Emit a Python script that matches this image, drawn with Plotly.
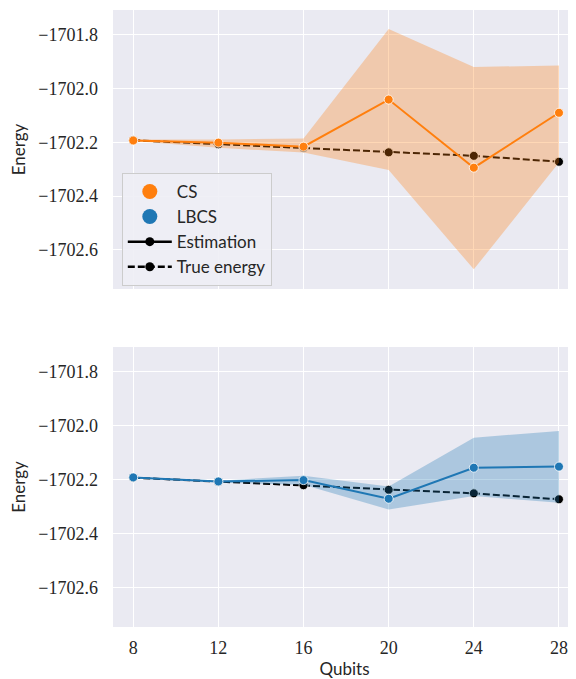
import plotly.graph_objects as go
from plotly.subplots import make_subplots

qubits = [8, 12, 16, 20, 24, 28]
true_energy = [-1702.192, -1702.207, -1702.220, -1702.237, -1702.250, -1702.272]

cs_mean = [-1702.193, -1702.201, -1702.216, -1702.041, -1702.294, -1702.090]
cs_upper = [-1702.189, -1702.189, -1702.186, -1701.779, -1701.920, -1701.914]
cs_lower = [-1702.195, -1702.220, -1702.238, -1702.303, -1702.672, -1702.275]

lbcs_mean = [-1702.191, -1702.206, -1702.201, -1702.270, -1702.155, -1702.151]
lbcs_upper = [-1702.189, -1702.203, -1702.185, -1702.225, -1702.044, -1702.019]
lbcs_lower = [-1702.194, -1702.210, -1702.218, -1702.310, -1702.260, -1702.285]

yticks = [-1701.8, -1702.0, -1702.2, -1702.4, -1702.6]
ytick_text = ["\u22121701.8", "\u22121702.0", "\u22121702.2", "\u22121702.4", "\u22121702.6"]

ORANGE = "#ff7f0e"
BLUE = "#1f77b4"
BG = "#eaeaf2"
SERIF = "Liberation Serif"
SANS = "Lato"

fig = make_subplots(rows=2, cols=1, shared_xaxes=True, vertical_spacing=0.0)

panels = [
    (1, cs_mean, cs_upper, cs_lower, ORANGE, "rgba(255,127,14,0.3)"),
    (2, lbcs_mean, lbcs_upper, lbcs_lower, BLUE, "rgba(31,119,180,0.3)"),
]

for row, mean, up, lo, col, fillcol in panels:
    # true energy (drawn beneath the band)
    fig.add_trace(go.Scatter(
        x=qubits, y=true_energy, mode="lines+markers",
        line=dict(color="black", width=2, dash="7px,3px"),
        marker=dict(color="black", size=9, line=dict(color="white", width=0.8)),
        showlegend=False, hoverinfo="skip"), row=row, col=1)
    # band
    fig.add_trace(go.Scatter(
        x=qubits, y=up, mode="lines", line=dict(width=0, color=fillcol),
        showlegend=False, hoverinfo="skip"), row=row, col=1)
    fig.add_trace(go.Scatter(
        x=qubits, y=lo, mode="lines", line=dict(width=0, color=fillcol),
        fill="tonexty", fillcolor=fillcol,
        showlegend=False, hoverinfo="skip"), row=row, col=1)
    # estimation
    fig.add_trace(go.Scatter(
        x=qubits, y=mean, mode="lines+markers",
        line=dict(color=col, width=2),
        marker=dict(color=col, size=9, line=dict(color="white", width=0.8)),
        showlegend=False), row=row, col=1)

# legend proxies
fig.add_trace(go.Scatter(x=[None], y=[None], mode="markers", name="CS",
                         marker=dict(color=ORANGE, size=15)), row=1, col=1)
fig.add_trace(go.Scatter(x=[None], y=[None], mode="markers", name="LBCS",
                         marker=dict(color=BLUE, size=15)), row=1, col=1)
fig.add_trace(go.Scatter(x=[None], y=[None], mode="lines+markers", name="Estimation",
                         line=dict(color="black", width=2.5),
                         marker=dict(color="black", size=9)), row=1, col=1)
fig.add_trace(go.Scatter(x=[None], y=[None], mode="lines+markers", name="True energy",
                         line=dict(color="black", width=2.5, dash="7px,3px"),
                         marker=dict(color="black", size=9)), row=1, col=1)

yrange = [-1702.745, -1701.708]
xrange = [7.05, 28.8]

for r, dom in [(1, [0.5478, 1.0]), (2, [0.0, 0.4538])]:
    fig.update_yaxes(
        row=r, col=1, range=yrange, domain=dom,
        tickvals=yticks, ticktext=ytick_text,
        tickfont=dict(family=SERIF, size=18, color="#262626"),
        showgrid=True, gridcolor="white", gridwidth=1.2,
        zeroline=False, showline=False, ticks="", ticklabelstandoff=14,
        title=dict(text="Energy", font=dict(family=SANS, size=17, color="#262626"), standoff=10),
    )
    fig.update_xaxes(
        row=r, col=1, range=xrange, tickvals=qubits,
        tickfont=dict(family=SERIF, size=18, color="#262626"),
        showgrid=True, gridcolor="white", gridwidth=1.2,
        zeroline=False, showline=False, ticks="", ticklabelstandoff=8,
    )

fig.update_xaxes(row=1, col=1, showticklabels=False)
fig.update_xaxes(row=2, col=1,
                 title=dict(text="Qubits", font=dict(family=SANS, size=17, color="#262626"), standoff=9))

fig.update_layout(
    width=568, height=671,
    margin=dict(l=105, r=0, t=2, b=52),
    paper_bgcolor="white", plot_bgcolor=BG,
    font=dict(family=SANS, color="#262626"),
    legend=dict(
        x=0.019, y=0.736, xanchor="left", yanchor="top",
        bgcolor="rgba(238,238,245,0.9)", bordercolor="#cccccc", borderwidth=1,
        font=dict(family=SANS, size=17, color="#262626"),
        itemsizing="trace", tracegroupgap=0, traceorder="normal",
        itemwidth=44,
    ),
    showlegend=True,
)

fig.write_html("out.html")
